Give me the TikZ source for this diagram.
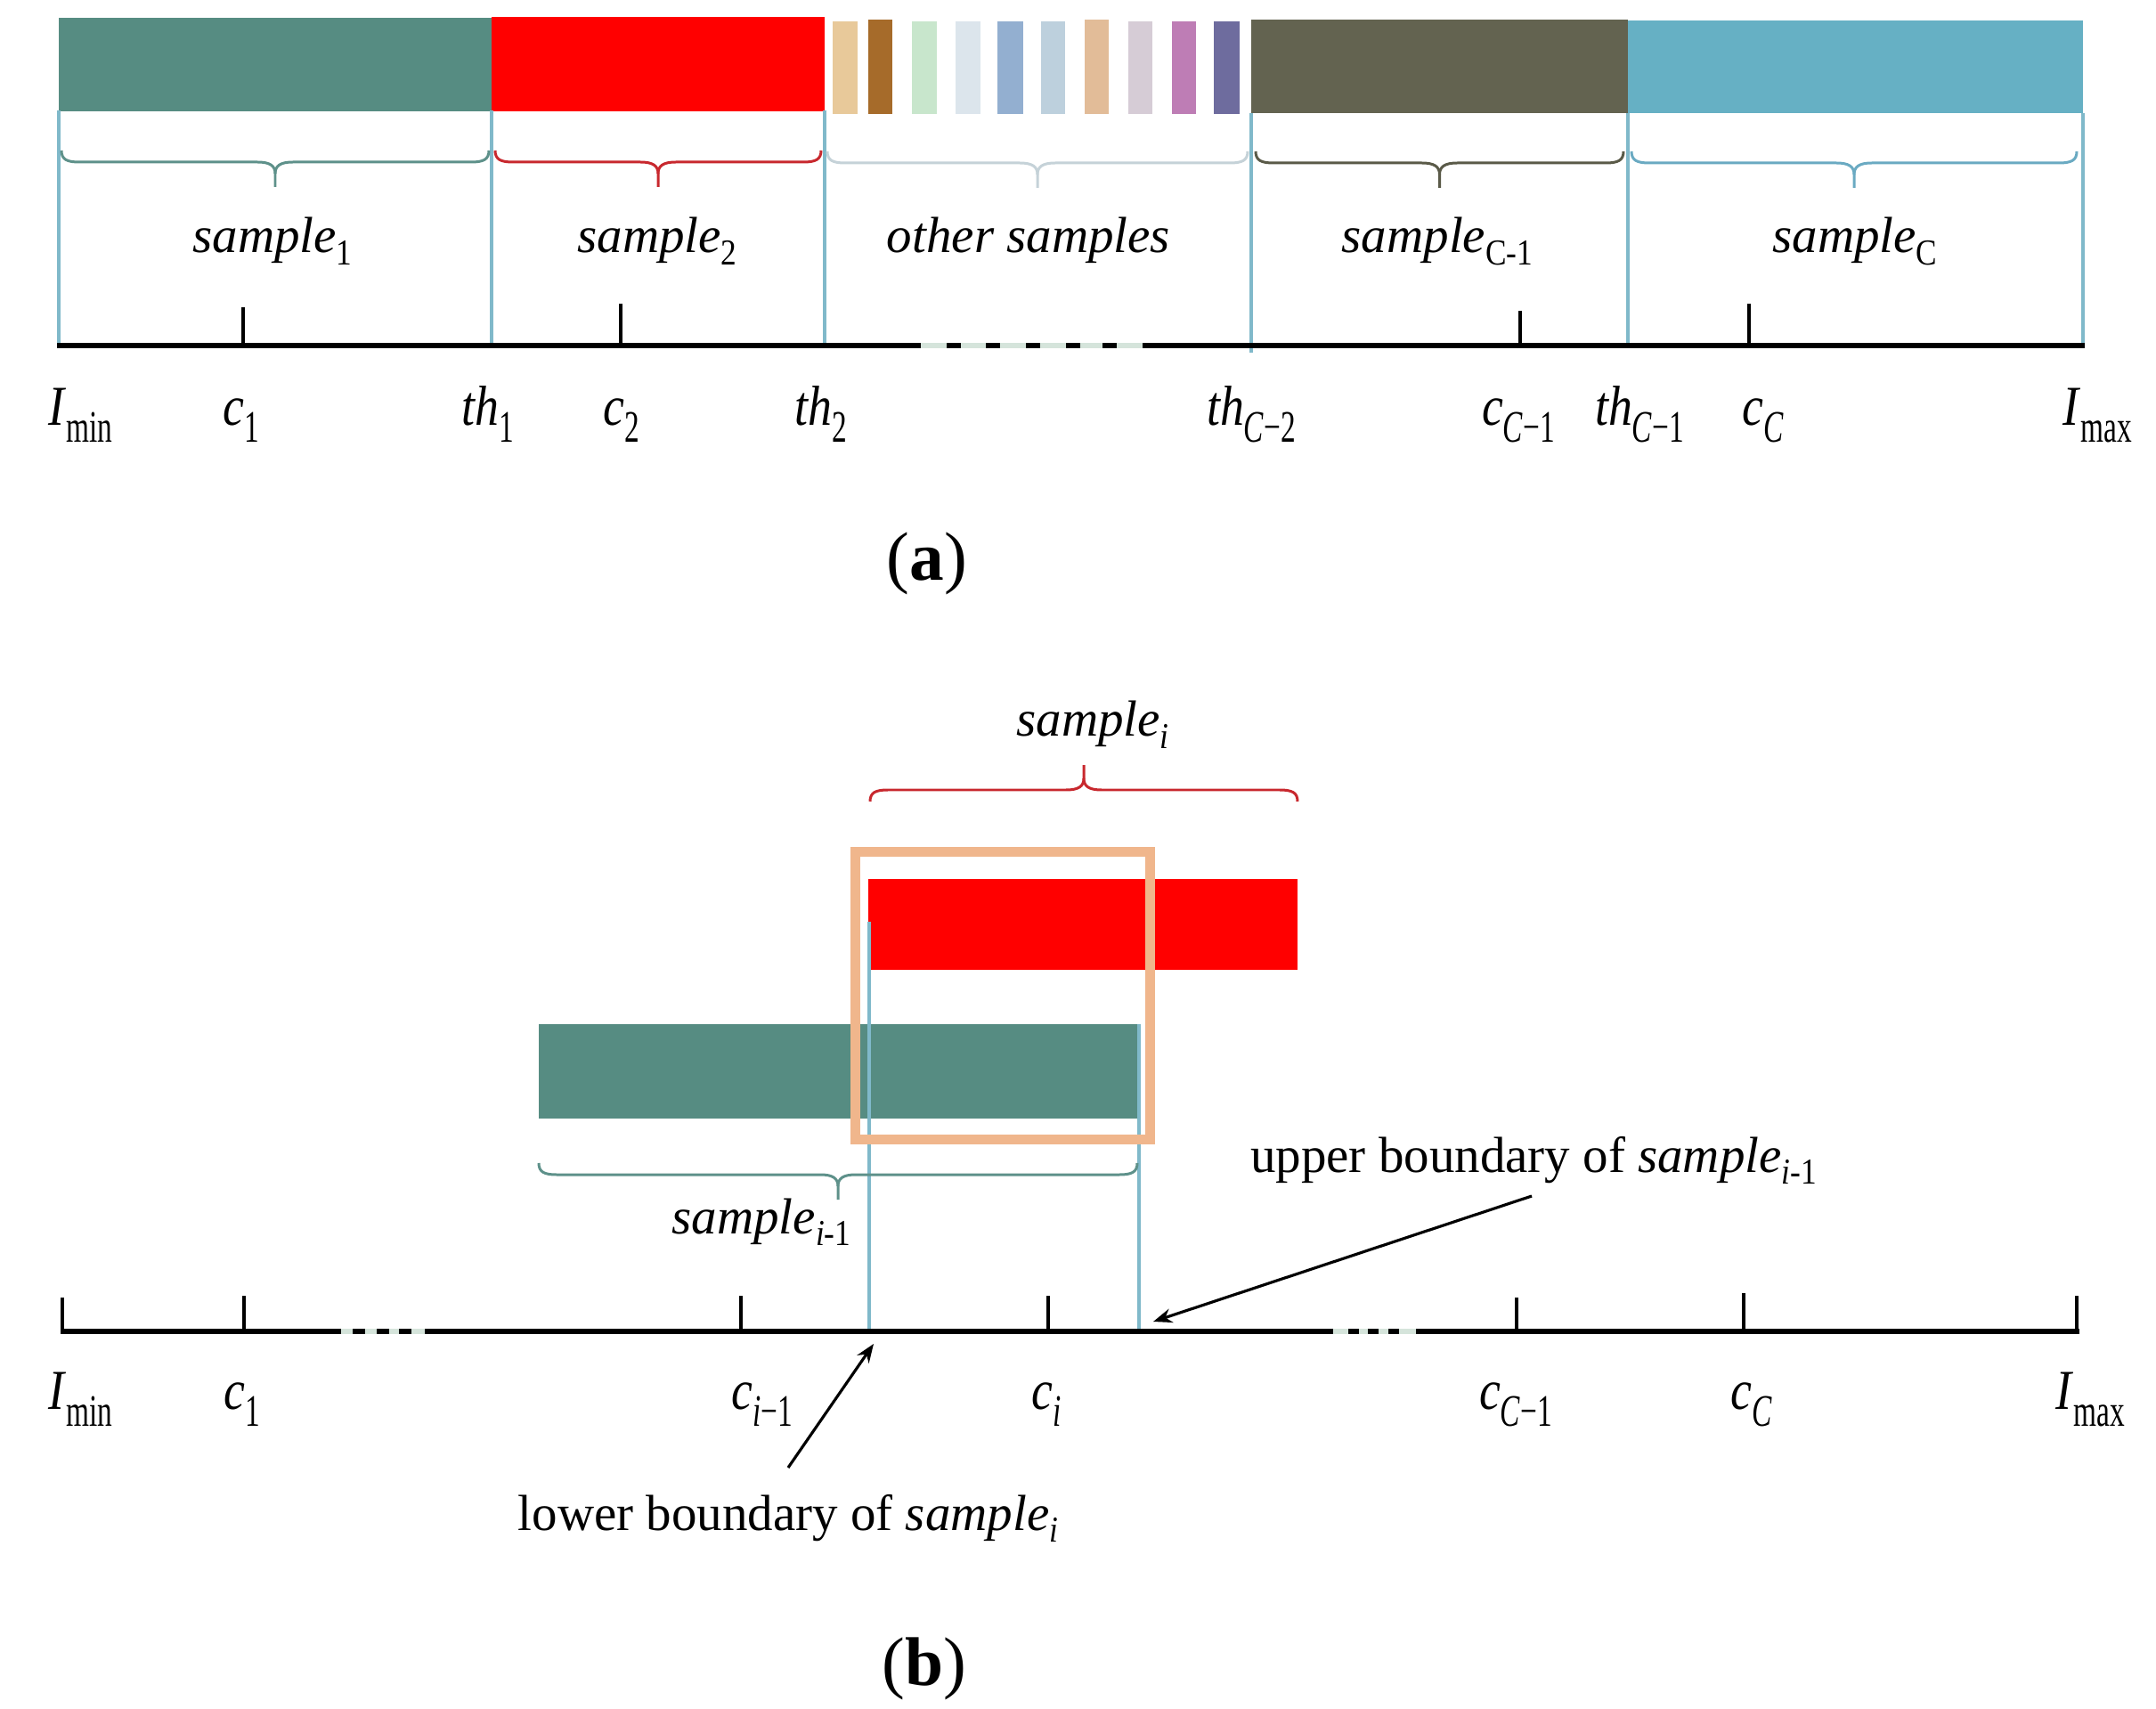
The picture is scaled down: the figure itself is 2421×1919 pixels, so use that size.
\documentclass[tikz,border=0pt]{standalone}
\usepackage{fontspec}
\setmainfont{Liberation Serif}
\usepackage{graphicx}
\usetikzlibrary{arrows.meta}
\definecolor{barteal}{HTML}{568C82}
\definecolor{barred}{HTML}{FF0000}
\definecolor{bartan}{HTML}{E8C99A}
\definecolor{barbrown}{HTML}{A66B2A}
\definecolor{bargreen}{HTML}{C8E6CC}
\definecolor{barpale}{HTML}{DCE5EC}
\definecolor{barblue}{HTML}{93AFD0}
\definecolor{barlblue}{HTML}{BDD0DD}
\definecolor{barpeach}{HTML}{E2BC98}
\definecolor{barlav}{HTML}{D6CCD6}
\definecolor{barpink}{HTML}{BE7DB5}
\definecolor{barpurple}{HTML}{6E6C9E}
\definecolor{barolive}{HTML}{636350}
\definecolor{barcyan}{HTML}{66B0C4}
\definecolor{vline}{HTML}{80B9CA}
\definecolor{boxorange}{HTML}{F0B68C}
\definecolor{brteal}{HTML}{5E918A}
\definecolor{brred}{HTML}{C8282E}
\definecolor{brpale}{HTML}{C5D2D8}
\definecolor{brolive}{HTML}{5A5A48}
\definecolor{brcyan}{HTML}{6AAAC2}
\definecolor{dashlight}{HTML}{D5E4DB}
\newcommand\ssub[1]{\raisebox{-0.24em}{\scalebox{0.62}[0.72]{#1}}}
\newcommand\asub[1]{\raisebox{-0.3em}{\scalebox{0.62}[0.8]{#1}}}
\newcommand\axl[1]{\scalebox{0.85}[1]{#1}}
\newcommand\mybrace[5]{%
  \pgfmathsetmacro\bxm{(#1+#2)/2}%
  \draw[bracestyle,#5] (#1,#3) .. controls (#1,{#3+#4*10}) and ({#1+6},{#3+#4*13}) .. ({#1+20},{#3+#4*13})
     -- ({\bxm-20},{#3+#4*13}) .. controls ({\bxm-6},{#3+#4*13}) and (\bxm,{#3+#4*17}) .. (\bxm,{#3+#4*26})
     -- (\bxm,{#3+#4*41});
  \draw[bracestyle,#5] (#2,#3) .. controls (#2,{#3+#4*10}) and ({#2-6},{#3+#4*13}) .. ({#2-20},{#3+#4*13})
     -- ({\bxm+20},{#3+#4*13}) .. controls ({\bxm+6},{#3+#4*13}) and (\bxm,{#3+#4*17}) .. (\bxm,{#3+#4*26});
}
\begin{document}
\begin{tikzpicture}[x=0.01cm,y=-0.01cm,
  bracestyle/.style={line width=0.85pt},
  vl/.style={draw=vline,line width=1.3pt},
  axisline/.style={line width=1.45pt,black},
  tickline/.style={line width=0.9pt,black},
  dashseg/.style={line width=1.45pt,black},
  lightseg/.style={line width=1.45pt,dashlight},
  slab/.style={inner sep=0pt,anchor=base,font=\fontsize{16.2}{19}\selectfont},
  alab/.style={inner sep=0pt,anchor=base,font=\fontsize{18}{21}\selectfont},
  plab/.style={inner sep=0pt,anchor=base,font=\fontsize{22}{26}\selectfont},
  arr/.style={line width=0.9pt,-{Stealth[length=0.21cm,width=0.16cm]}}
]
\fill[white] (0,0) rectangle (2421,1919);
\useasboundingbox (0,0) rectangle (2421,1919);

% ---------------- (a) ----------------
\fill[barteal] (66,20) rectangle (552,125);
\fill[barred] (552,19) rectangle (926,125);
\fill[bartan] (935,24) rectangle (963,128);
\fill[barbrown] (975,22) rectangle (1002,128);
\fill[bargreen] (1024,24) rectangle (1052,128);
\fill[barpale] (1073,24) rectangle (1101,128);
\fill[barblue] (1120,24) rectangle (1149,128);
\fill[barlblue] (1169,24) rectangle (1196,128);
\fill[barpeach] (1218,22) rectangle (1245,128);
\fill[barlav] (1267,24) rectangle (1294,128);
\fill[barpink] (1316,24) rectangle (1343,128);
\fill[barpurple] (1363,24) rectangle (1392,128);
\fill[barolive] (1405,22) rectangle (1828,127);
\fill[barcyan] (1828,23) rectangle (2339,127);

\draw[vl] (66,124) -- (66,388);
\draw[vl] (552,124) -- (552,388);
\draw[vl] (926,124) -- (926,388);
\draw[vl] (1405,127) -- (1405,396);
\draw[vl] (1828,127) -- (1828,388);
\draw[vl] (2339,127) -- (2339,388);

\mybrace{69}{549}{169}{1}{brteal}
\mybrace{556}{922}{169}{1}{brred}
\mybrace{929}{1401}{170}{1}{brpale}
\mybrace{1410}{1823}{170}{1}{brolive}
\mybrace{1832}{2332}{170}{1}{brcyan}

\node[slab] (s1) at (306,284) {\textit{sample}\ssub{1}};
\node[slab] (s2) at (738,284) {\textit{sample}\ssub{2}};
\node[slab] (so) at (1155,284) {\textit{other samples}};
\node[slab] (sCm) at (1614,284) {\textit{sample}\ssub{C-1}};
\node[slab] (sC) at (2083,284) {\textit{sample}\ssub{C}};

\draw[axisline] (64,388) -- (2341,388);
\draw[lightseg] (1034,388) -- (1283,388);
\foreach \a in {1063,1107,1152,1197,1238} \draw[dashseg] (\a,388) -- ({\a+16},388);
\draw[tickline] (273,345) -- (273,388);
\draw[tickline] (697,341) -- (697,388);
\draw[tickline] (1707,349) -- (1707,388);
\draw[tickline] (1964,341) -- (1964,388);

\node[alab] (aImin) at (90,478) {\axl{\textit{I}\asub{min}}};
\node[alab] (ac1) at (271,478) {\axl{\textit{c}\asub{1}}};
\node[alab] (ath1) at (548,478) {\axl{\textit{th}\asub{1}}};
\node[alab] (ac2) at (698,478) {\axl{\textit{c}\asub{2}}};
\node[alab] (ath2) at (922,478) {\axl{\textit{th}\asub{2}}};
\node[alab] (athCmm) at (1405,478) {\axl{\textit{th}\asub{\textit{C}−2}}};
\node[alab] (acCm) at (1705,478) {\axl{\textit{c}\asub{\textit{C}−1}}};
\node[alab] (athCm) at (1841,478) {\axl{\textit{th}\asub{\textit{C}−1}}};
\node[alab] (acC) at (1980,478) {\axl{\textit{c}\asub{\textit{C}}}};
\node[alab] (aImax) at (2355,478) {\axl{\textit{I}\asub{max}}};

\node[plab] (la) at (1041,652) {(\textbf{a})};

% ---------------- (b) ----------------
\node[slab] (si) at (1227,827) {\textit{sample}\ssub{\textit{i}}};
\mybrace{977}{1457}{900}{-1}{brred}

\fill[barred] (975,987) rectangle (1457,1089);
\fill[barteal] (605,1150) rectangle (1279,1256);

\draw[vl] (976,1035) -- (976,1495);
\draw[vl] (1279,1150) -- (1279,1495);

\draw[boxorange,line width=3.1pt] (960.5,956.5) rectangle (1291.5,1279.5);

\mybrace{605}{1277}{1306}{1}{brteal}
\node[slab] (sim) at (855,1385) {\textit{sample}\ssub{\textit{i}-1}};

\draw[axisline] (68,1495) -- (2335,1495);
\draw[lightseg] (383,1495) -- (477,1495);
\foreach \a in {396,423,448} \draw[dashseg] (\a,1495) -- ({\a+14},1495);
\draw[lightseg] (1497,1495) -- (1590,1495);
\foreach \a in {1514,1536,1559} \draw[dashseg] (\a,1495) -- ({\a+12},1495);

\draw[tickline] (70,1457) -- (70,1495);
\draw[tickline] (274,1455) -- (274,1495);
\draw[tickline] (832,1455) -- (832,1495);
\draw[tickline] (1177,1455) -- (1177,1495);
\draw[tickline] (1703,1457) -- (1703,1495);
\draw[tickline] (1958,1452) -- (1958,1495);
\draw[tickline] (2332,1455) -- (2332,1495);

\node[alab] (bImin) at (90,1582) {\axl{\textit{I}\asub{min}}};
\node[alab] (bc1) at (272,1582) {\axl{\textit{c}\asub{1}}};
\node[alab] (bcim) at (856,1582) {\axl{\textit{c}\asub{\textit{i}−1}}};
\node[alab] (bci) at (1175,1582) {\axl{\textit{c}\asub{\textit{i}}}};
\node[alab] (bcCm) at (1702,1582) {\axl{\textit{c}\asub{\textit{C}−1}}};
\node[alab] (bcC) at (1967,1582) {\axl{\textit{c}\asub{\textit{C}}}};
\node[alab] (bImax) at (2347,1582) {\axl{\textit{I}\asub{max}}};

\node[slab] (ub) at (1722,1316) {upper boundary of \textit{sample}\ssub{\textit{i}-1}};
\node[slab] (lb) at (885,1718) {lower boundary of \textit{sample}\ssub{\textit{i}}};

\coordinate (ubs) at (1720,1343);
\coordinate (ubt) at (1295,1484);
\coordinate (lbs) at (885,1648);
\coordinate (lbt) at (981,1509);
\draw[arr] (ubs) -- (ubt);
\draw[arr] (lbs) -- (lbt);

\node[plab] (lbl) at (1038,1892) {(\textbf{b})};
\end{tikzpicture}
\end{document}
